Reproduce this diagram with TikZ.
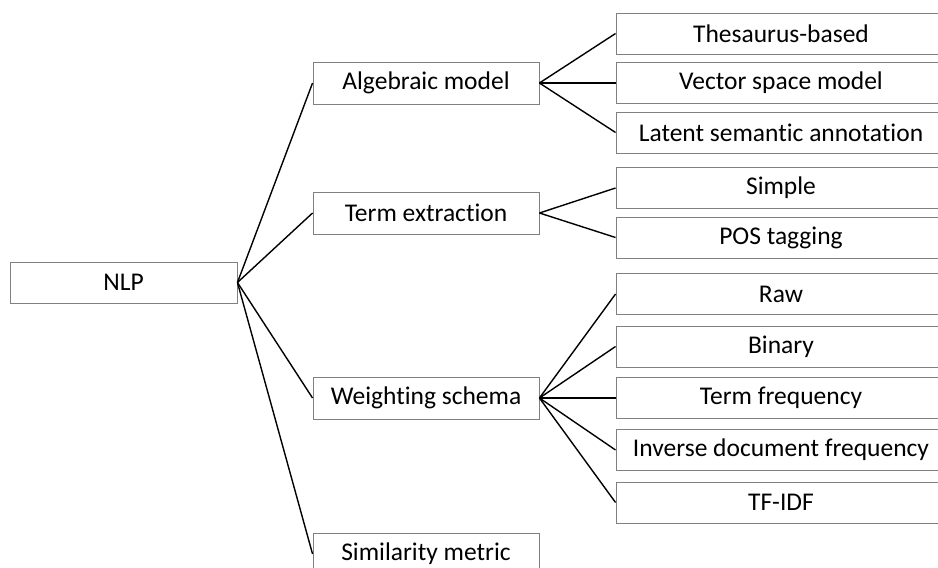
\documentclass[tikz,border=0pt]{standalone}
\usepackage{fontspec}
\setmainfont{Carlito}[Ligatures=CommonOff]
\begin{document}
\begin{tikzpicture}[x=1pt,y=-1pt,
  box/.style={draw=black!50, line width=0.9pt, rectangle, inner sep=0pt,
    font=\fontsize{25.5}{30}\selectfont},
  rootbox/.style={box, minimum width=227pt, minimum height=41pt},
  midbox/.style={box, minimum width=226pt, minimum height=42pt},
  leafbox/.style={box, minimum width=330pt, minimum height=41pt},
  link/.style={line width=1.4pt, black}]
\clip (0,0) rectangle (938,568);

% root
\node[rootbox] (nlp) at (123.5,282.5) {NLP};

% first level
\node[midbox] (alg)  at (426,83)  {Algebraic model};
\node[midbox] (term) at (426,213) {Term extraction};
\node[midbox] (wgt)  at (426,398) {Weighting schema};
\node[midbox] (sim)  at (426,554) {Similarity metric};

% second level: algebraic model
\node[leafbox] (thes) at (781,33.5)  {Thesaurus-based};
\node[leafbox] (vsm)  at (781,83)    {Vector space model};
\node[leafbox] (lsa)  at (781,132.5) {Latent semantic annotation};

% second level: term extraction
\node[leafbox] (simple) at (781,188)   {Simple};
\node[leafbox] (pos)    at (781,237.5) {POS tagging};

% second level: weighting schema
\node[leafbox] (raw)   at (781,294)   {Raw};
\node[leafbox] (bin)   at (781,346.5) {Binary};
\node[leafbox] (tf)    at (781,398)   {Term frequency};
\node[leafbox] (idf)   at (781,450)   {Inverse document frequency};
\node[leafbox] (tfidf) at (781,502.5) {TF-IDF};

% connectors
\foreach \c in {alg,term,wgt,sim}
  \draw[link] (nlp.east) -- (\c.west);
\foreach \c in {thes,vsm,lsa}
  \draw[link] (alg.east) -- (\c.west);
\foreach \c in {simple,pos}
  \draw[link] (term.east) -- (\c.west);
\foreach \c in {raw,bin,tf,idf,tfidf}
  \draw[link] (wgt.east) -- (\c.west);
\end{tikzpicture}
\end{document}
